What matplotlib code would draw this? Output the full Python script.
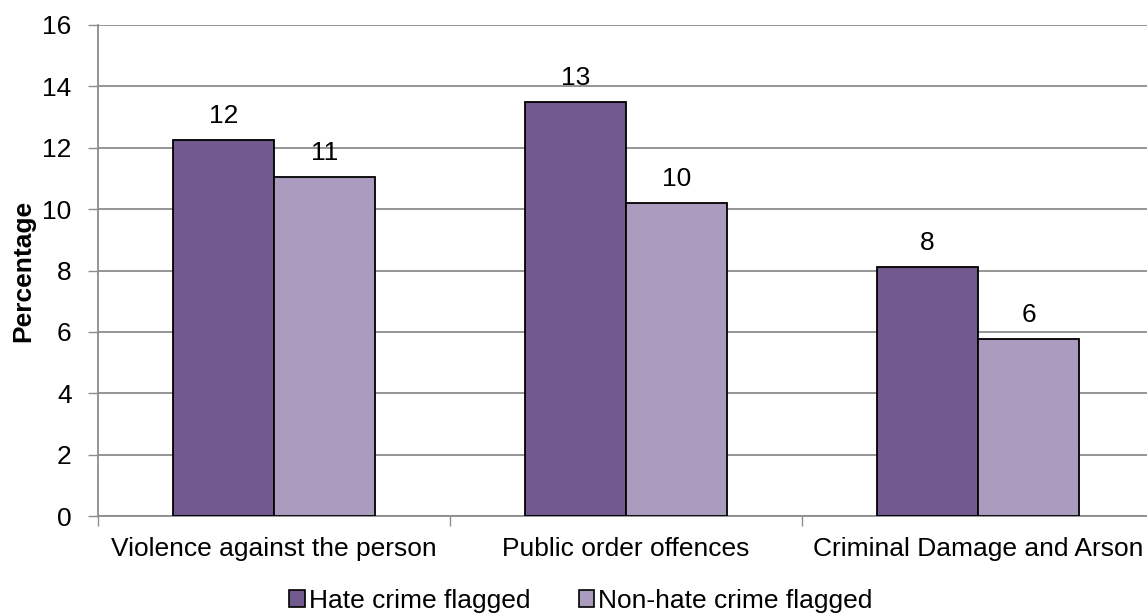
import matplotlib
matplotlib.use("Agg")
import matplotlib.pyplot as plt
import numpy as np
from matplotlib.patches import Patch

categories = ["Violence against the person", "Public order offences", "Criminal Damage and Arson"]
series_names = ["Hate crime flagged", "Non-hate crime flagged"]
hate = [12.25, 13.49, 8.12]
nonhate = [11.06, 10.2, 5.77]
hate_labels = ["12", "13", "8"]
nonhate_labels = ["11", "10", "6"]
yticks = [0, 2, 4, 6, 8, 10, 12, 14, 16]

plt.rcParams['font.family'] = ['Liberation Sans', 'DejaVu Sans']

W, H = 1147, 614
fig = plt.figure(figsize=(W/100, H/100), dpi=100)
left, right, top, bottom = 98, 1154, 25, 516
ax = fig.add_axes([left/W, 1-bottom/H, (right-left)/W, (bottom-top)/H])

dark = "#725a8e"
light = "#aa9bbf"
grid = "#8c8c8c"
FS = 19
x = np.arange(len(categories)) + 0.5
bw = 0.287

b1 = ax.bar(x - bw/2, hate, bw, color=dark, edgecolor="black", linewidth=1.3, zorder=3)
b2 = ax.bar(x + bw/2, nonhate, bw, color=light, edgecolor="black", linewidth=1.3, zorder=3)
for rect, lab in zip(b1, hate_labels):
    ax.text(rect.get_x()+rect.get_width()/2, rect.get_height()+0.38, lab, ha="center", va="bottom", fontsize=FS)
for rect, lab in zip(b2, nonhate_labels):
    ax.text(rect.get_x()+rect.get_width()/2, rect.get_height()+0.38, lab, ha="center", va="bottom", fontsize=FS)

ax.set_xlim(0, 3)
ax.set_ylim(0, 16)
ax.set_yticks(yticks)
ax.set_yticklabels([str(t) for t in yticks], fontsize=FS)
ax.yaxis.grid(True, color=grid, linewidth=1.3, zorder=0)
ax.set_axisbelow(True)
ax.set_xticks([0, 1, 2, 3])
ax.set_xticklabels([])
ax.set_xticks(x, minor=True)
ax.set_xticklabels(categories, minor=True, fontsize=FS)
ax.tick_params(axis='x', which='minor', length=0, pad=15)
ax.tick_params(axis='x', which='major', length=7, color=grid, width=1)
ax.tick_params(axis='y', length=7, color=grid, width=1, pad=12)
for s in ["top", "right"]:
    ax.spines[s].set_visible(False)
for s in ["left", "bottom"]:
    ax.spines[s].set_color(grid)
    ax.spines[s].set_linewidth(1.3)
ax.set_ylabel("Percentage", fontsize=FS, fontweight="bold")
ax.yaxis.set_label_coords((35 - left)/(right-left), 0.5)

handles = [Patch(facecolor=dark, edgecolor="black", linewidth=1.2),
           Patch(facecolor=light, edgecolor="black", linewidth=1.2)]
fig.legend(handles, series_names, loc="center", bbox_to_anchor=(581/W, 1-601/H), ncol=2,
           frameon=False, fontsize=FS, handlelength=0.58, handleheight=0.58,
           handletextpad=0.15, columnspacing=1.85, borderpad=0)

fig.savefig("out.png", dpi=100)
